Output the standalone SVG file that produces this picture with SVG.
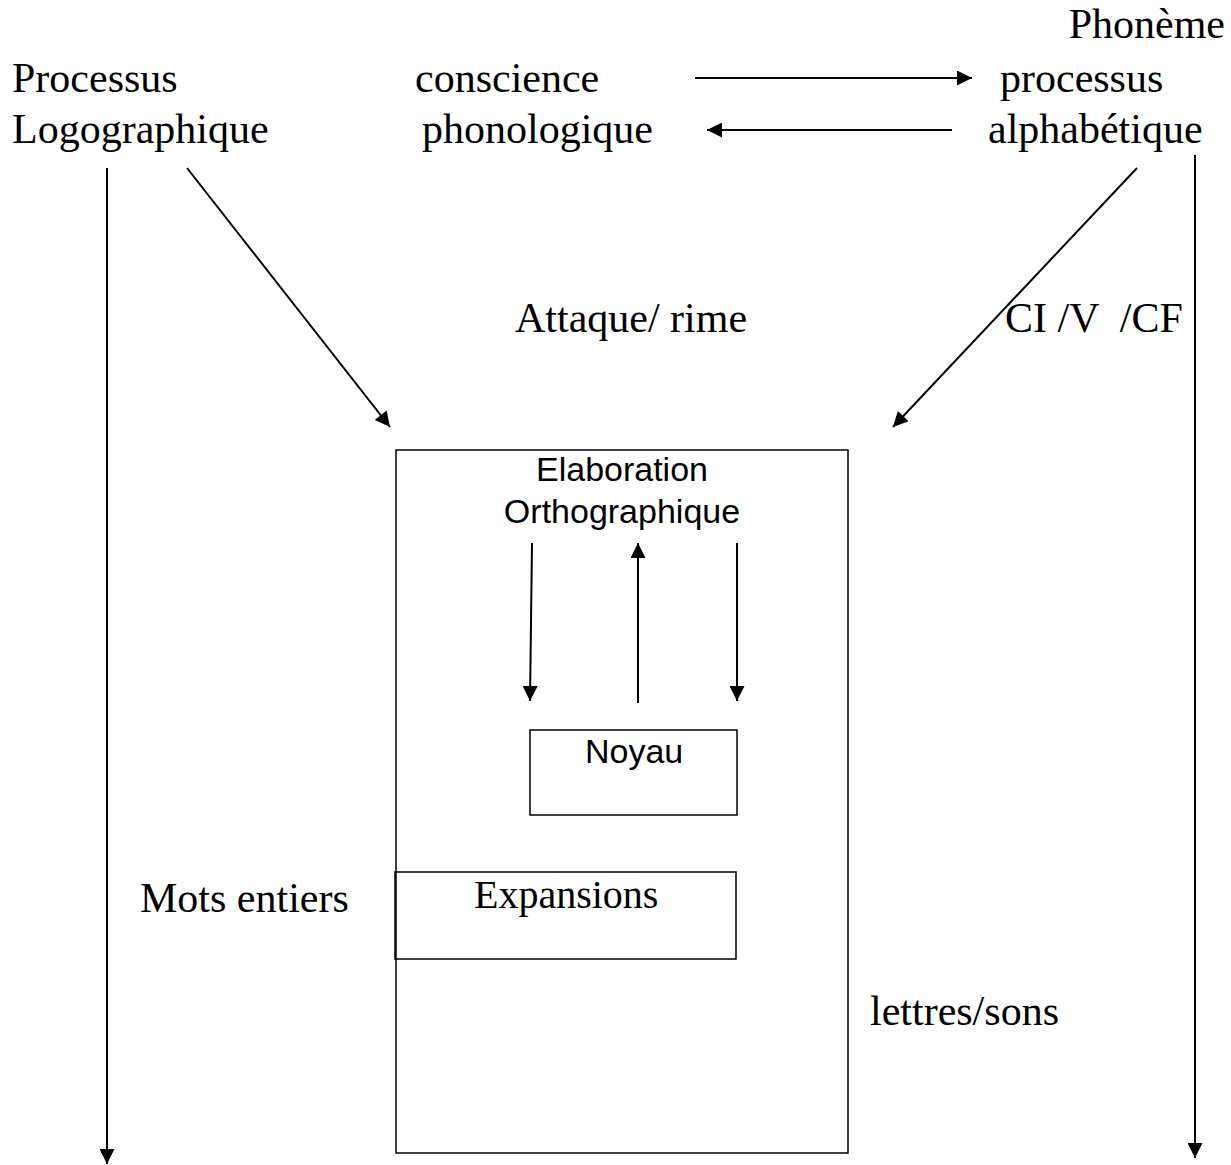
<svg xmlns="http://www.w3.org/2000/svg" width="1231" height="1165" viewBox="0 0 1231 1165">
<style>
.t{font-family:"Liberation Serif","Times New Roman",serif;font-size:42px;fill:#000;white-space:pre}
.a{font-family:"Liberation Sans",Arial,sans-serif;font-size:34px;fill:#000}
.box{fill:none;stroke:#000;stroke-width:1.5}
.ln{fill:none;stroke:#000;stroke-width:2;marker-end:url(#ah)}
</style>
<defs>
<marker id="ah" viewBox="0 0 10 10" refX="10" refY="5" markerWidth="17" markerHeight="15" orient="auto" markerUnits="userSpaceOnUse">
<path d="M0,0 L10,5 L0,10 z" fill="#000"/>
</marker>
</defs>
<rect width="1231" height="1165" fill="#fff"/>
<g id="labels">
<text class="t" x="1225" y="38" text-anchor="end">Phonème</text>
<text class="t" x="12" y="92">Processus</text>
<text class="t" x="12" y="143">Logographique</text>
<text class="t" x="415" y="92">conscience</text>
<text class="t" x="422" y="143">phonologique</text>
<text class="t" x="1000" y="92">processus</text>
<text class="t" x="988" y="143">alphabétique</text>
<text class="t" x="515" y="332">Attaque/ rime</text>
<text class="t" x="1005" y="332" xml:space="preserve">CI /V  /CF</text>
<text class="t" x="140" y="912">Mots entiers</text>
<text class="t" x="870" y="1025">lettres/sons</text>
</g>
<g id="elaboration">
<rect class="box" x="396" y="450" width="452" height="703"/>
<text class="a" x="622" y="481" text-anchor="middle">Elaboration</text>
<text class="a" x="622" y="523" text-anchor="middle">Orthographique</text>
</g>
<g id="noyau">
<rect class="box" x="530" y="730" width="207" height="85"/>
<text class="a" x="585" y="763">Noyau</text>
</g>
<g id="expansions">
<rect class="box" x="395" y="872" width="341" height="87"/>
<text class="t" x="474" y="908" style="font-size:40px">Expansions</text>
</g>
<g id="connectors">
<line class="ln" x1="695" y1="78" x2="972" y2="78"/>
<line class="ln" x1="952" y1="130" x2="707" y2="130"/>
<line class="ln" x1="107" y1="168" x2="107" y2="1164"/>
<line class="ln" x1="1195" y1="155" x2="1195" y2="1158"/>
<line class="ln" x1="187" y1="168" x2="390" y2="427"/>
<line class="ln" x1="1137" y1="168" x2="893" y2="427"/>
<line class="ln" x1="532" y1="543" x2="530" y2="701"/>
<line class="ln" x1="638" y1="703" x2="638" y2="543"/>
<line class="ln" x1="737" y1="543" x2="737" y2="701"/>
</g>
</svg>
